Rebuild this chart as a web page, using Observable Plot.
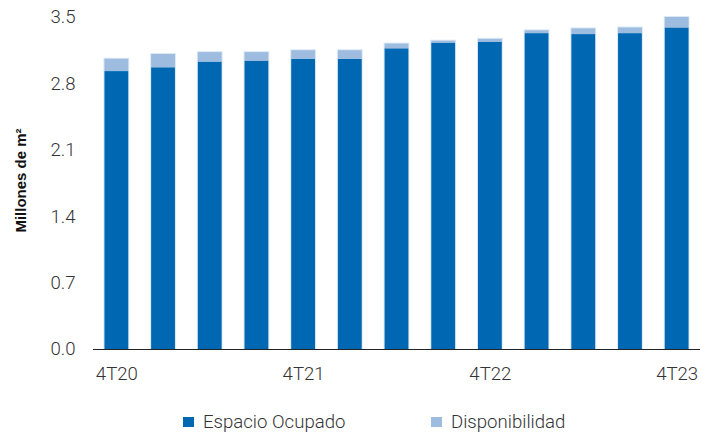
<!DOCTYPE html>
<html>
<head>
<meta charset="utf-8">
<script src="https://cdn.jsdelivr.net/npm/d3@7"></script>
<script src="https://cdn.jsdelivr.net/npm/@observablehq/plot@0.6"></script>
<style>
  html, body { margin: 0; padding: 0; background: #fff; }
  body { width: 715px; height: 435px; overflow: hidden; font-family: Roboto, "Liberation Sans", sans-serif; }
  #legend { position: relative; height: 40px; font-weight: 300; font-size: 18.6px; color: #333; }
  .item { position: absolute; top: 16px; display: flex; align-items: center; white-space: nowrap; }
  .sw { width: 11px; height: 10px; margin-right: 9px; }
</style>
</head>
<body>
<div id="chart"></div>
<div id="legend"></div>
<script>
// Quarterly occupied and available space, millions of m²
const quarters = ["4T20", "1T21", "2T21", "3T21", "4T21", "1T22", "2T22", "3T22", "4T22", "1T23", "2T23", "3T23", "4T23"];
const ocupado = [2.93, 2.97, 3.03, 3.04, 3.06, 3.06, 3.17, 3.23, 3.24, 3.33, 3.32, 3.33, 3.39];
const disponibilidad = [0.13, 0.14, 0.10, 0.09, 0.09, 0.09, 0.05, 0.02, 0.03, 0.03, 0.06, 0.06, 0.11];
const xTickLabels = ["4T20", "4T21", "4T22", "4T23"];
const yTicks = [0, 0.7, 1.4, 2.1, 2.8, 3.5];
const series = ["Espacio Ocupado", "Disponibilidad"];
const colors = ["#0068b3", "#9dbcdf"];
const yTitle = "Millones de m²";

const rows = quarters.flatMap((q, i) => [
  { q, s: series[0], v: ocupado[i] },
  { q, s: series[1], v: disponibilidad[i] }
]);
const totals = quarters.map((q, i) => ({ q, v: ocupado[i] + disponibilidad[i] }));

const chart = Plot.plot({
  width: 715,
  height: 395,
  marginTop: 17,
  marginBottom: 46,
  marginLeft: 93,
  marginRight: 15,
  style: { fontFamily: "Roboto, 'Liberation Sans', sans-serif", fontSize: "18.6px", fontWeight: 300, color: "#333", background: "#fff" },
  x: { domain: quarters, paddingInner: 0.49, paddingOuter: 0.245, round: false },
  y: { domain: [0, 3.5] },
  color: { domain: series, range: colors },
  marks: [
    // soft halo around each column
    Plot.barY(totals, { x: "q", y: "v", fill: "#dce9f5", inset: -1 }),
    Plot.barY(rows, Plot.stackY({ x: "q", y: "v", fill: "s", order: series })),
    Plot.ruleY([0], { stroke: "#222", strokeWidth: 1.2 }),
    Plot.axisX({ ticks: xTickLabels, tickSize: 0, tickPadding: 17, label: null }),
    Plot.axisY({ ticks: yTicks, tickFormat: d3.format(".1f"), tickSize: 0, tickPadding: 18, label: null }),
    Plot.text([yTitle], {
      frameAnchor: "left", dx: -72, dy: -3, rotate: -90, textAnchor: "middle",
      fontWeight: "bold", fontSize: 15, fill: "#111",
      fontFamily: "'Liberation Sans', Arial, sans-serif"
    })
  ]
});
document.getElementById("chart").appendChild(chart);

// Legend below the plot
const legend = document.getElementById("legend");
const legendX = [183, 431];
series.forEach((name, i) => {
  const item = document.createElement("div");
  item.className = "item";
  item.style.left = legendX[i] + "px";
  const sw = document.createElement("span");
  sw.className = "sw";
  sw.style.background = colors[i];
  const label = document.createElement("span");
  label.textContent = name;
  item.appendChild(sw);
  item.appendChild(label);
  legend.appendChild(item);
});
</script>
</body>
</html>
